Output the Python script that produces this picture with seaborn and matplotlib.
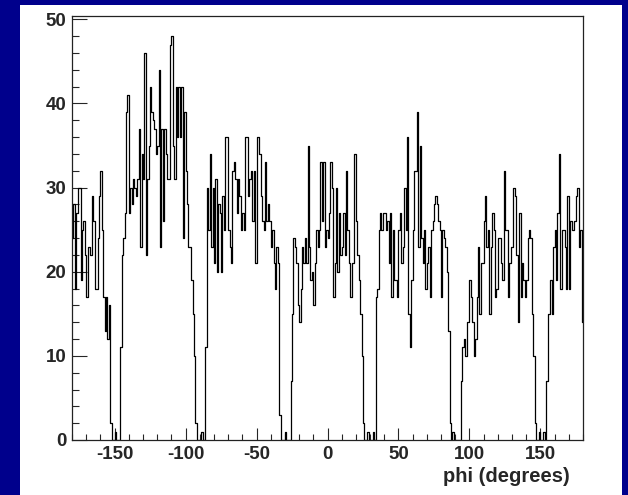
import matplotlib
matplotlib.use("Agg")
import matplotlib.pyplot as plt
import numpy as np
import pandas as pd
import seaborn as sns
from matplotlib.patches import Rectangle
from matplotlib.ticker import MultipleLocator

# counts per 1-degree bin, sector by sector
sector_a = [24, 28, 18, 27, 30, 30, 19, 25, 26, 22, 17, 23, 23, 22, 29, 26, 18, 18, 24, 29,
            32, 25, 17, 13, 17, 12, 16]
gap_1 = [2, 0, 0, 1, 0, 0, 0]
sector_b = [11, 22, 24, 27, 39, 41, 27, 30, 28, 31, 30, 29, 31, 37, 23, 34, 31, 46, 22, 31,
            35, 42, 39, 38, 37, 34, 35, 44, 23, 37, 26, 37, 34, 31, 31, 47, 48, 35, 31, 42,
            36, 42, 36, 42, 24, 39, 32, 28, 23, 23, 19, 15, 10]
gap_2 = [2, 0, 0, 0, 1, 0, 0]
sector_c = [11, 30, 25, 34, 23, 30, 21, 31, 20, 28,
            27, 20, 29, 25, 36, 36, 25, 23, 21, 32, 33, 31, 27, 31, 29, 25, 27, 25, 36, 36,
            29, 31, 32, 26, 32, 21, 36, 36, 34, 29, 26, 25, 33, 26, 28, 26, 23, 25, 21, 18,
            23, 21, 3]
gap_3 = [0, 0, 0, 1, 0, 0, 0]
sector_d = [7, 15, 24, 23, 21, 16, 14, 18, 23, 21, 24, 21, 35, 23, 19, 20, 16, 21, 25, 23,
            25, 33, 26, 33, 23, 25, 24, 27, 33, 30, 17, 21, 30, 20, 27, 22, 23, 27, 22, 32,
            25, 21, 17, 21, 21, 34, 26, 22, 19, 15, 10, 2, 0]
gap_4 = [0, 1, 0, 0, 0, 1, 0]
sector_e = [17, 18, 25, 27, 25, 27, 27, 25, 26, 21, 27, 17, 25, 19, 19, 17, 25, 27, 21, 23,
            30, 25, 36, 15, 11, 19, 25, 32, 32, 39, 23, 35, 24, 21, 25, 18, 21, 23, 17, 25,
            26, 28, 29, 28, 26, 25, 17, 25, 24, 23, 20, 13, 2]
gap_5 = [0, 1, 0, 0, 0, 0, 0]
sector_f = [7, 11, 12, 10, 14, 14, 19, 17, 14, 10, 12, 17, 23, 15, 21, 21, 26, 29, 23, 25,
            15, 23, 27, 25, 17, 18, 24, 24, 21, 19, 32, 25, 25, 17, 21, 23, 23, 30, 29, 22,
            14, 27, 17, 21, 19, 17, 19, 24, 25, 24, 15, 10, 2]
gap_6 = [0, 0, 1, 0, 0, 1, 0]
sector_g = [7, 15, 15, 19, 15, 23, 25, 19, 27, 34, 18, 25, 25, 23, 18, 29, 18, 26, 25, 25,
            26, 29, 30, 23, 25, 14]

counts = np.concatenate([sector_a, gap_1, sector_b, gap_2, sector_c, gap_3, sector_d,
                         gap_4, sector_e, gap_5, sector_f, gap_6, sector_g])
bin_left = np.arange(-180, 180, 1)
df = pd.DataFrame({'phi': bin_left + 0.5, 'count': counts})

sns.set_style("ticks")
plt.rcParams['font.family'] = ['Liberation Sans', 'DejaVu Sans']
plt.rcParams['font.weight'] = 'bold'
plt.rcParams['axes.unicode_minus'] = False

fig = plt.figure(figsize=(6.28, 4.95), dpi=100, facecolor='#00008c')
fig.add_artist(Rectangle((20 / 628, 0), 602 / 628, 490 / 495, transform=fig.transFigure,
                         facecolor='white', edgecolor='none', zorder=0))
ax = fig.add_axes([72 / 628, 55 / 495, 511 / 628, 424 / 495])

sns.histplot(data=df, x='phi', weights='count', binwidth=1, binrange=(-180, 180),
             element='step', fill=False, color='black', linewidth=0.9, ax=ax)

ax.set_xlim(-180, 180)
ax.set_ylim(0, 50.4)
ax.xaxis.set_major_locator(MultipleLocator(50))
ax.xaxis.set_minor_locator(MultipleLocator(10))
ax.yaxis.set_major_locator(MultipleLocator(10))
ax.yaxis.set_minor_locator(MultipleLocator(2))
ax.set_xticks([-150, -100, -50, 0, 50, 100, 150])
ax.tick_params(axis='x', which='major', direction='in', length=8.5, width=0.8,
               labelsize=13.5, pad=4)
ax.tick_params(axis='x', which='minor', direction='in', length=4.3, width=0.8)
ax.tick_params(axis='y', which='major', direction='in', length=10.5, width=0.8,
               labelsize=13.5, pad=4)
ax.tick_params(axis='y', which='minor', direction='in', length=5, width=0.8)
for lab in ax.get_xticklabels() + ax.get_yticklabels():
    lab.set_fontweight('bold')

for side in ['left', 'bottom', 'top', 'right']:
    ax.spines[side].set_visible(True)
    ax.spines[side].set_color('#222222')
    ax.spines[side].set_linewidth(0.9)

ax.set_ylabel('')
ax.set_xlabel('phi (degrees)', fontsize=14.5, fontweight='bold', loc='right')
ax.xaxis.set_label_coords(0.975, -0.064)

fig.savefig('out.png', dpi=100, facecolor=fig.get_facecolor())
